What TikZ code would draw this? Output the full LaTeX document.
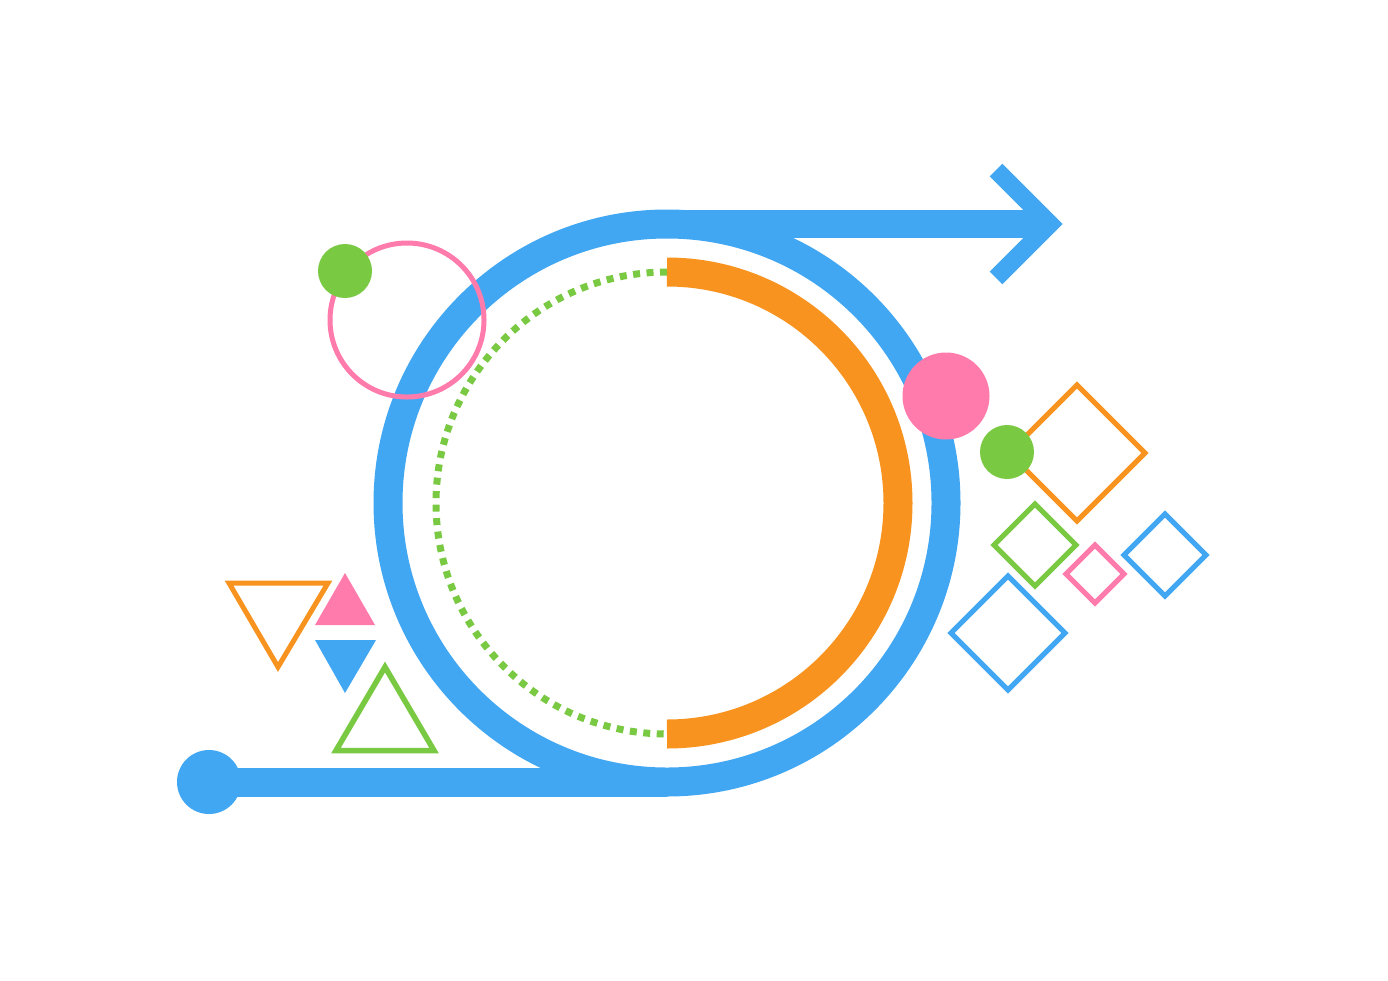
\documentclass[tikz,border=0pt]{standalone}
\definecolor{cblue}{HTML}{42A7F3}
\definecolor{corange}{HTML}{F7931E}
\definecolor{cgreen}{HTML}{7AC943}
\definecolor{cpink}{HTML}{FF7BAC}
\tikzset{
  loopline/.style={cblue, line width=29pt},
  thinline/.style={line width=5pt, miter limit=10, line join=miter},
}
\begin{document}
\begin{tikzpicture}[x=1pt,y=-1pt]
\useasboundingbox[fill=white] (0,0) rectangle (1388,980);
\coordinate (c) at (667,503);
\coordinate (dotc) at (209,782);
\coordinate (bot) at (667,782);
\coordinate (top) at (667,224);
\coordinate (tipend) at (1045,224);
\coordinate (arcT) at (667,272);
% main loop
\draw[loopline] (c) circle[radius=279pt];
\draw[loopline] (dotc) -- (bot);
\fill[cblue] (dotc) circle[radius=32pt];
\draw[cblue, line width=28pt] (top) -- (tipend);
\draw[cblue, line width=18pt, line join=miter] (996,170) -- (1050,224) -- (996,278);
% inner arcs
\draw[corange, line width=29pt] (arcT) arc[start angle=90, end angle=-90, radius=231pt];
\draw[cgreen, line width=7pt, dash pattern=on 7pt off 6.5pt] (arcT) arc[start angle=90, end angle=270, radius=231pt];
% circles
\draw[cpink, line width=5pt] (407,320) circle[radius=77pt];
\fill[cgreen] (345,271) circle[radius=27pt];
\fill[cpink] (946,396) circle[radius=43.5pt];
% triangles
\draw[corange, thinline] (229,583) -- (328,583) -- (278,667) -- cycle;
\fill[cpink] (345,573) -- (375,625) -- (315,625) -- cycle;
\fill[cblue] (315,640) -- (376,640) -- (345,693) -- cycle;
\draw[cgreen, thinline, line width=5.5pt] (336,750.5) -- (434,750.5) -- (385,667) -- cycle;
% diamonds
\draw[corange, thinline] (1077,385) -- ++(68,68) -- ++(-68,68) -- ++(-68,-68) -- cycle;
\fill[cgreen] (1007,452) circle[radius=27pt];
\draw[cgreen, thinline] (1035,504) -- ++(41,41) -- ++(-41,41) -- ++(-41,-41) -- cycle;
\draw[cpink, thinline] (1095,545) -- ++(29,29) -- ++(-29,29) -- ++(-29,-29) -- cycle;
\draw[cblue, thinline] (1165,514) -- ++(41,41) -- ++(-41,41) -- ++(-41,-41) -- cycle;
\draw[cblue, thinline] (1008,576) -- ++(57,57) -- ++(-57,57) -- ++(-57,-57) -- cycle;
\end{tikzpicture}
\end{document}
